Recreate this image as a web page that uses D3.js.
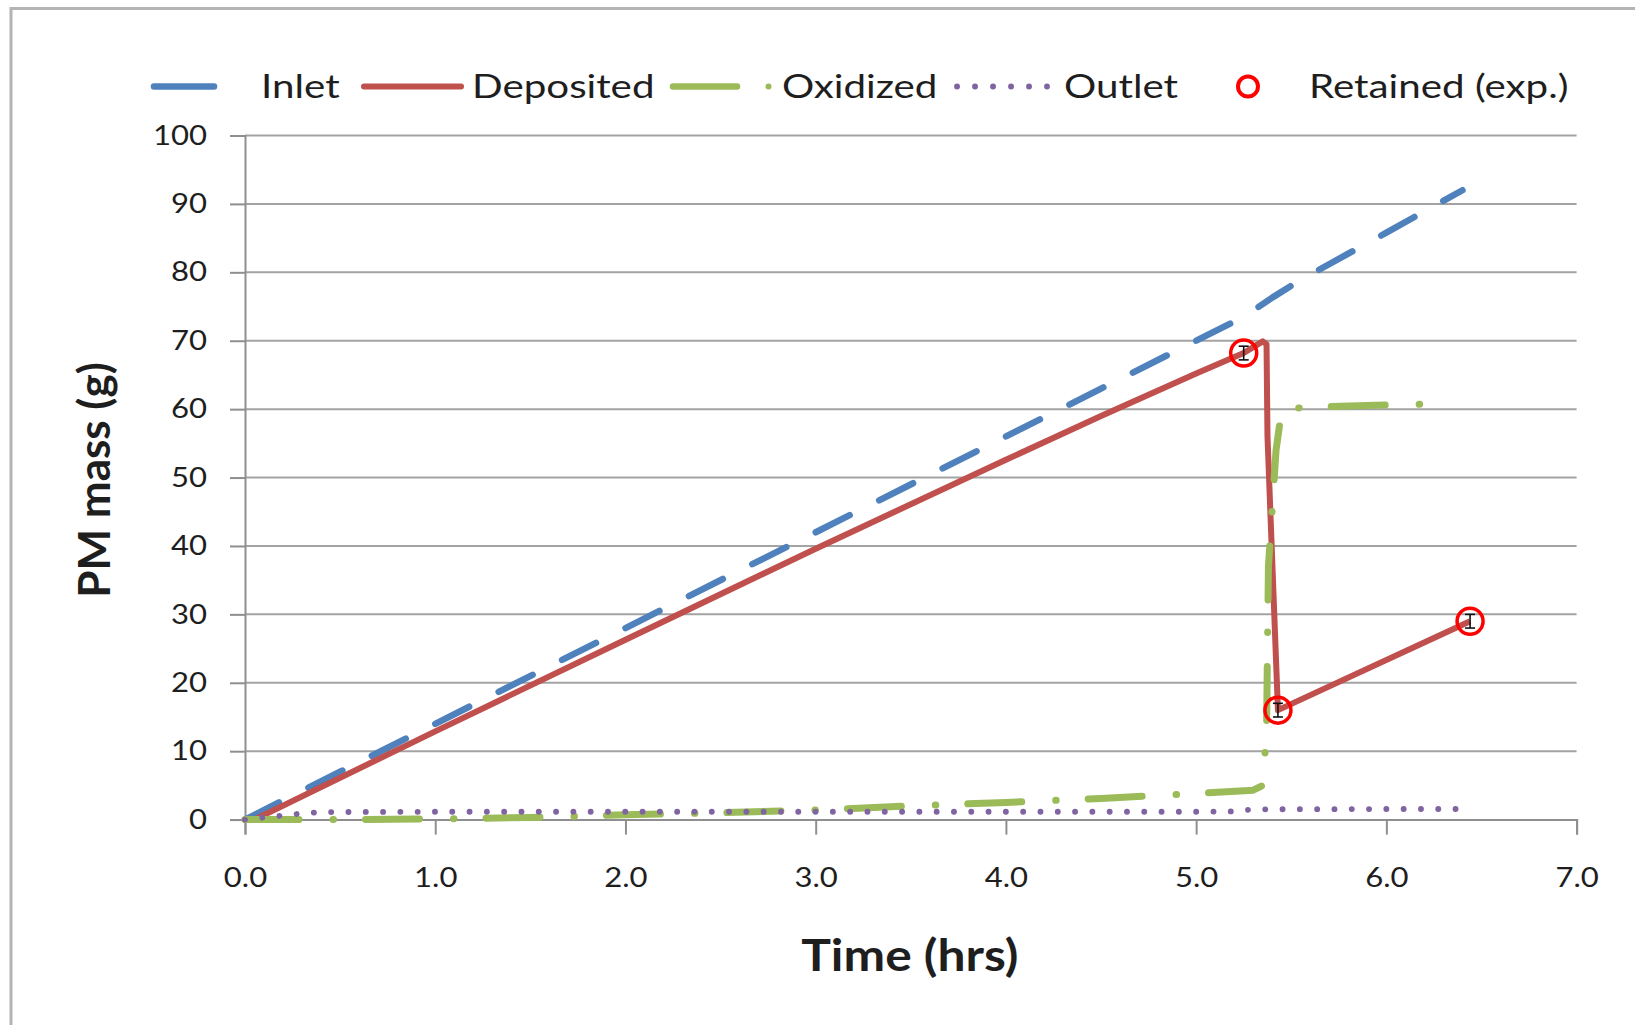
<!DOCTYPE html>
<html>
<head>
<meta charset="utf-8">
<script src="https://cdn.jsdelivr.net/npm/d3@7"></script>
<style>
  html, body { margin: 0; padding: 0; background: #ffffff; }
  svg { display: block; }
  text { font-family: Lato, "Open Sans", sans-serif; fill: #1e1e1e; }
</style>
</head>
<body>
<svg id="chart" width="1635" height="1025"></svg>
<script>
// ---- data ----
const xTicks = [0, 1, 2, 3, 4, 5, 6, 7];
const yTicks = [0, 10, 20, 30, 40, 50, 60, 70, 80, 90, 100];

const inletTime = [0, 0.5, 1, 2, 3, 4, 4.5, 5, 5.25, 5.4, 5.55, 6.0, 6.4];
const inletMass = [0, 7, 14, 28, 42, 56, 63, 70, 73.5, 76.3, 78.9, 85.8, 92];

const depositedTime = [0, 0.05, 1, 2, 3, 4, 4.5, 5, 5.25, 5.35, 5.37, 5.375, 5.43, 6.44];
const depositedMass = [0, 0, 12.9, 26.3, 39.6, 52.6, 59.0, 65.2, 68.2, 69.9, 69.5, 56, 16, 29];

const oxidizedTime = [0, 0.5, 1, 1.5, 2, 2.5, 3, 3.5, 4, 4.5, 5, 5.3, 5.35, 5.37, 5.38, 5.42, 5.45, 5.6, 6.0, 6.32];
const oxidizedMass = [0, 0, 0.1, 0.3, 0.7, 1.0, 1.4, 2.0, 2.5, 3.1, 3.8, 4.3, 5, 13, 37, 54, 60, 60.3, 60.6, 60.8];

const outletTime = [0, 0.1, 0.2, 0.3, 0.4, 1, 2, 3, 4, 5, 5.2, 5.3, 6, 6.45];
const outletMass = [0, 0.3, 0.6, 0.9, 1.1, 1.15, 1.15, 1.15, 1.15, 1.15, 1.2, 1.5, 1.55, 1.55];

const retainedTime = [5.25, 5.43, 6.44];
const retainedMass = [68.2, 16, 29];
const retainedErr = [1, 1, 1];

const seriesNames = ["Inlet", "Deposited", "Oxidized", "Outlet", "Retained (exp.)"];

// ---- layout ----
const svg = d3.select("#chart");
const plot = { left: 245, right: 1576.6, top: 135.5, bottom: 819.6 };

const x = d3.scaleLinear().domain([0, 7]).range([plot.left, plot.right]);
const y = d3.scaleLinear().domain([0, 100]).range([plot.bottom, plot.top]);

// widen glyphs horizontally by factor k, keeping the anchor
function stretch(sel, k) {
  sel.each(function () {
    const w = this.getComputedTextLength();
    this.setAttribute("textLength", w * k);
    this.setAttribute("lengthAdjust", "spacingAndGlyphs");
  });
}

// outer frame
svg.append("rect")
  .attr("x", 11).attr("y", 8.5)
  .attr("width", 1700).attr("height", 1100)
  .attr("fill", "none")
  .attr("stroke", "#b4b4b4")
  .attr("stroke-width", 3);

// horizontal gridlines
svg.append("g")
  .selectAll("line")
  .data(yTicks.filter(d => d > 0))
  .join("line")
  .attr("x1", plot.left).attr("x2", plot.right)
  .attr("y1", d => y(d)).attr("y2", d => y(d))
  .attr("stroke", "#a3a3a3")
  .attr("stroke-width", 2);

// y axis
const yAxis = svg.append("g")
  .attr("transform", `translate(${plot.left},0)`)
  .call(d3.axisLeft(y).tickValues(yTicks).tickSize(15).tickPadding(23).tickFormat(d3.format("d")));
yAxis.select(".domain").attr("stroke", "#8f8f8f").attr("stroke-width", 2);
yAxis.selectAll(".tick line").attr("stroke", "#8f8f8f").attr("stroke-width", 2);
yAxis.selectAll(".tick text")
  .attr("font-size", 27)
  .attr("font-family", "Lato, sans-serif")
  .attr("fill", "#1a1a1a");
stretch(yAxis.selectAll(".tick text"), 1.15);

// x axis
const xAxis = svg.append("g")
  .attr("transform", `translate(0,${plot.bottom})`)
  .call(d3.axisBottom(x).tickValues(xTicks).tickSize(15).tickPadding(33).tickFormat(d3.format(".1f")));
xAxis.select(".domain").attr("stroke", "#8f8f8f").attr("stroke-width", 2);
xAxis.selectAll(".tick line").attr("stroke", "#8f8f8f").attr("stroke-width", 2);
xAxis.selectAll(".tick text")
  .attr("font-size", 27)
  .attr("font-family", "Lato, sans-serif")
  .attr("fill", "#1a1a1a");
stretch(xAxis.selectAll(".tick text"), 1.15);

// axis titles
const xTitle = svg.append("text")
  .attr("x", (plot.left + plot.right) / 2 - 1).attr("y", 971)
  .attr("text-anchor", "middle")
  .attr("font-size", 44).attr("font-weight", 700)
  .attr("fill", "#111")
  .text("Time (hrs)");
stretch(xTitle, 1.13);

svg.append("text")
  .attr("transform", "translate(110,480) rotate(-90)")
  .attr("text-anchor", "middle")
  .attr("font-size", 44).attr("font-weight", 700)
  .attr("fill", "#111")
  .text("PM mass (g)");

// ---- series lines ----
const line = d3.line().x(d => x(d[0])).y(d => y(d[1]));
const zip = (a, b) => a.map((v, i) => [v, b[i]]);

const styles = {
  Inlet:     { color: "#4f81bd", width: 6.5, dash: "38,33", cap: "round" },
  Deposited: { color: "#c0504d", width: 6,   dash: null,    cap: "butt" },
  Oxidized:  { color: "#9bbb59", width: 7,   dash: "54,34,0.5,32", cap: "round" },
  Outlet:    { color: "#8064a2", width: 5.8, dash: "0.1,17.2", cap: "round" }
};

const series = [
  { name: "Inlet", pts: zip(inletTime, inletMass) },
  { name: "Deposited", pts: zip(depositedTime, depositedMass) },
  { name: "Oxidized", pts: zip(oxidizedTime, oxidizedMass) },
  { name: "Outlet", pts: zip(outletTime, outletMass) }
];

svg.append("g")
  .selectAll("path")
  .data(series)
  .join("path")
  .attr("d", d => line(d.pts))
  .attr("fill", "none")
  .attr("stroke", d => styles[d.name].color)
  .attr("stroke-width", d => styles[d.name].width)
  .attr("stroke-dasharray", d => styles[d.name].dash)
  .attr("stroke-linecap", d => styles[d.name].cap)
  .attr("stroke-linejoin", "round");

// ---- retained measurements with error bars ----
const retained = retainedTime.map((t, i) => ({ t, m: retainedMass[i], e: retainedErr[i] }));
const eb = svg.append("g").attr("stroke", "#111").attr("stroke-width", 1.6);
retained.forEach(d => {
  eb.append("line").attr("x1", x(d.t)).attr("x2", x(d.t)).attr("y1", y(d.m - d.e)).attr("y2", y(d.m + d.e));
  eb.append("line").attr("x1", x(d.t) - 5).attr("x2", x(d.t) + 5).attr("y1", y(d.m - d.e)).attr("y2", y(d.m - d.e));
  eb.append("line").attr("x1", x(d.t) - 5).attr("x2", x(d.t) + 5).attr("y1", y(d.m + d.e)).attr("y2", y(d.m + d.e));
});
svg.append("g")
  .selectAll("circle")
  .data(retained)
  .join("circle")
  .attr("cx", d => x(d.t)).attr("cy", d => y(d.m))
  .attr("r", 13)
  .attr("fill", "none")
  .attr("stroke", "#ff0000")
  .attr("stroke-width", 3.5);

// ---- legend ----
const lg = svg.append("g");
const ly = 86.5, lb = 98;
// Inlet
lg.append("line").attr("x1", 154).attr("x2", 214).attr("y1", ly).attr("y2", ly)
  .attr("stroke", styles.Inlet.color).attr("stroke-width", 6.5).attr("stroke-linecap", "round");
// Deposited
lg.append("line").attr("x1", 364).attr("x2", 461).attr("y1", ly).attr("y2", ly)
  .attr("stroke", styles.Deposited.color).attr("stroke-width", 6).attr("stroke-linecap", "round");
// Oxidized
lg.append("line").attr("x1", 673).attr("x2", 737).attr("y1", ly).attr("y2", ly)
  .attr("stroke", styles.Oxidized.color).attr("stroke-width", 6.5).attr("stroke-linecap", "round");
lg.append("circle").attr("cx", 768.5).attr("cy", ly).attr("r", 3).attr("fill", styles.Oxidized.color);
// Outlet
lg.append("line").attr("x1", 957).attr("x2", 1047).attr("y1", ly).attr("y2", ly)
  .attr("stroke", styles.Outlet.color).attr("stroke-width", 5.8).attr("stroke-linecap", "round")
  .attr("stroke-dasharray", "0.1,17.9");
// Retained
lg.append("circle").attr("cx", 1248).attr("cy", ly).attr("r", 10)
  .attr("fill", "none").attr("stroke", "#ff0000").attr("stroke-width", 4);

const legendTextX = [261, 472, 782, 1064, 1309];
const lt = lg.selectAll("text.leg")
  .data(seriesNames)
  .join("text")
  .attr("class", "leg")
  .attr("x", (d, i) => legendTextX[i])
  .attr("y", lb)
  .attr("font-size", 32)
  .attr("fill", "#1e1e1e")
  .text(d => d);
stretch(lt, 1.26);
</script>
</body>
</html>
